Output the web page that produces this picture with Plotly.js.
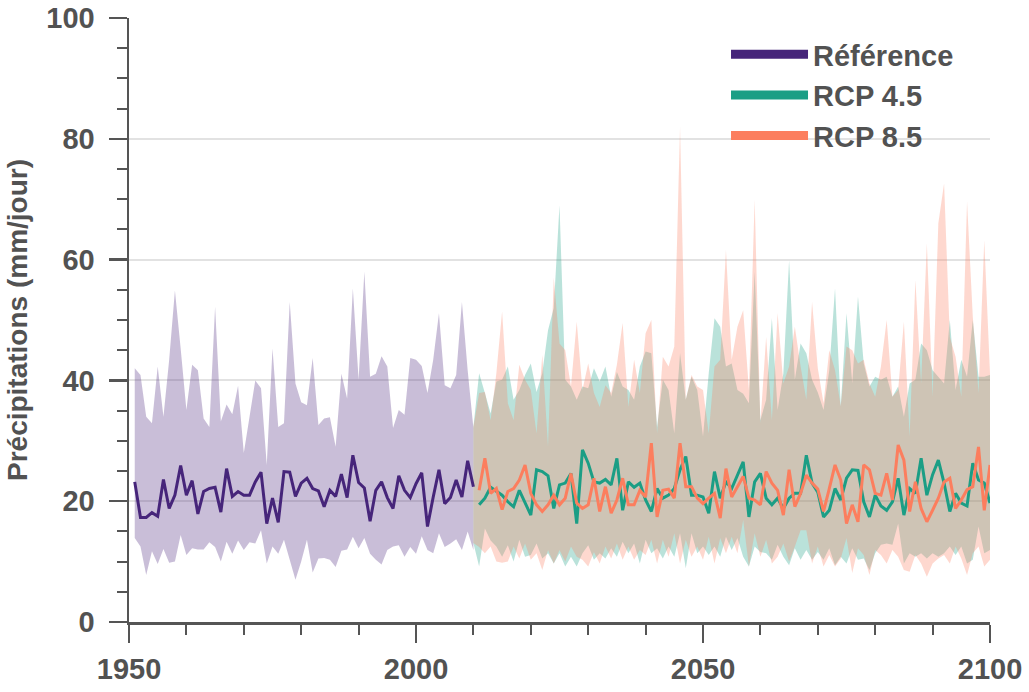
<!DOCTYPE html>
<html>
<head>
<meta charset="utf-8">
<script src="https://cdn.plot.ly/plotly-3.0.1.min.js"></script>
<style>
html,body{margin:0;padding:0;background:#fff;}
#chart{width:1029px;height:692px;}
</style>
</head>
<body>
<div id="chart"></div>
<script>
// ---------- Data ----------
const refYears = [];
for (let y = 1951; y <= 2010; y++) refYears.push(y);
const rcpYears = [];
for (let y = 2011; y <= 2100; y++) rcpYears.push(y);
const rcpBandYears = [];
for (let y = 2010; y <= 2100; y++) rcpBandYears.push(y);

const refMean = [
23.2,17.3,17.3,18.1,17.5,23.6,18.8,21.0,25.9,21.0,
23.4,17.9,21.6,22.1,22.3,18.2,25.4,20.8,21.6,21.0,
21.0,23.2,24.8,16.3,20.5,16.5,24.9,24.8,20.8,23.0,
23.8,22.1,21.7,19.1,21.8,20.8,24.5,20.6,27.6,23.1,
22.2,16.7,21.8,23.2,20.6,18.8,24.2,21.8,20.6,22.9,
24.7,15.8,20.7,25.2,19.6,20.6,23.5,20.7,26.7,22.4];
const refUpper = [
42.0,40.9,34.0,32.9,42.3,34.0,43.4,54.9,45.3,35.1,
42.6,41.7,33.7,32.3,52.2,33.2,36.0,34.4,39.1,28.0,
34.0,40.0,38.7,26.0,45.3,32.3,32.9,53.0,39.5,36.4,
35.9,43.7,32.6,33.7,33.9,29.0,41.1,37.0,55.2,40.1,
58.0,40.6,41.1,44.0,42.3,32.1,35.1,34.3,43.7,43.4,
42.4,37.9,43.4,51.1,39.2,38.7,40.9,53.0,41.7,32.1];
const refLower = [
13.9,12.5,7.8,11.7,9.6,12.1,9.8,10.0,14.4,11.1,
12.2,12.0,12.0,13.2,12.4,10.0,13.3,11.3,13.5,11.9,
13.2,13.0,15.2,9.7,12.5,11.3,13.6,10.3,7.0,10.0,
13.6,8.2,10.5,10.6,10.3,9.1,11.8,12.0,14.1,12.2,
13.9,11.3,10.3,9.5,11.9,12.5,12.7,10.8,12.4,11.3,
14.2,11.9,11.4,14.7,12.4,13.0,13.7,11.9,15.0,11.9];

// means: 2011-2100 ; bands: 2010-2100
const rcp45Mean = [
19.4,20.5,22.3,21.6,21.0,19.9,19.1,21.8,19.7,17.7,
25.2,24.9,24.2,18.8,22.7,23.0,24.6,16.3,28.5,26.3,
23.2,23.0,23.6,22.7,27.1,18.5,23.2,22.3,23.0,20.2,
18.3,22.1,20.5,21.0,22.1,25.2,27.4,21.0,21.0,20.7,
18.0,24.9,20.5,23.2,22.1,24.3,26.5,17.4,23.2,24.6,
20.5,19.4,20.5,18.8,20.5,21.3,21.3,27.6,23.0,21.5,
17.4,18.5,22.1,20.2,23.8,25.2,25.1,19.9,17.4,21.0,
19.2,18.5,19.9,23.8,17.7,22.1,21.3,27.1,21.0,24.4,
26.8,23.0,18.3,21.3,19.7,19.2,26.3,23.5,23.0,19.7];
const rcp45Upper = [32.3,
41.2,37.9,34.5,39.8,40.1,42.3,36.8,38.4,40.9,42.8,
38.1,41.2,48.3,52.0,69.0,40.1,39.0,36.8,39.0,38.7,
42.0,39.8,42.3,37.3,41.4,39.0,38.4,36.8,42.3,44.8,
44.5,32.3,40.1,38.4,31.2,44.5,36.8,40.6,38.4,30.7,
41.2,50.3,48.9,42.3,42.8,38.4,37.8,36.2,58.0,33.4,
36.8,50.3,35.1,41.2,59.9,40.1,46.1,44.5,40.1,38.0,
35.1,41.7,55.2,35.7,51.1,39.5,53.9,42.8,39.0,40.6,
40.1,40.6,37.3,39.0,34.0,39.5,40.1,46.1,45.0,41.7,
40.6,39.5,50.0,38.4,43.4,40.6,50.0,40.6,40.6,40.9];
const rcp45Lower = [13.1,
9.2,15.5,13.5,12.5,10.8,12.7,10.0,13.6,10.8,11.1,
13.0,10.5,11.4,9.7,11.4,9.2,10.8,9.2,11.4,12.7,
10.3,11.4,10.5,12.2,10.8,13.3,11.4,13.0,9.7,13.6,
11.4,12.2,10.5,12.5,10.8,14.7,8.9,14.7,11.4,12.5,
11.1,12.5,10.8,14.1,11.9,13.9,10.8,9.2,12.5,11.6,
11.4,10.3,12.8,10.8,9.4,12.2,10.3,11.9,10.3,11.6,
10.3,12.2,9.4,10.8,9.7,12.2,10.3,10.5,8.6,11.4,
12.8,13.0,12.8,16.3,9.7,11.4,10.8,11.4,10.5,11.4,
10.8,11.4,12.5,11.1,12.5,9.7,10.3,15.8,11.4,11.9];

const rcp85Mean = [
21.8,27.1,21.3,22.1,18.6,21.6,22.1,23.5,26.0,21.3,
19.4,18.3,19.4,21.0,19.4,20.5,24.6,19.7,18.8,19.4,
23.8,18.3,22.4,18.0,20.2,23.8,19.4,19.4,21.8,20.7,
29.6,17.4,21.8,22.0,20.5,29.6,22.4,22.4,20.5,19.6,
20.5,21.3,17.2,25.4,20.7,22.4,24.1,20.5,20.2,19.4,
24.9,23.0,21.8,17.7,25.2,19.1,21.3,24.3,23.0,22.0,
18.3,22.1,26.0,23.5,16.3,19.4,16.6,26.0,25.2,21.3,
21.0,24.6,20.2,29.3,26.8,18.3,23.2,18.8,16.6,18.5,
20.5,23.2,23.8,18.8,20.2,21.9,22.4,29.0,18.5,26.0];
const rcp85Upper = [32.3,
37.9,38.1,33.4,41.2,51.4,36.2,33.4,42.6,40.1,38.4,
31.2,44.2,29.0,57.0,46.1,45.0,39.0,49.7,38.4,42.8,
37.9,35.6,39.2,37.9,42.6,49.5,35.6,43.4,37.9,47.8,
50.0,31.2,43.9,42.3,45.6,82.0,36.8,40.9,39.0,38.4,
31.2,42.3,43.4,61.6,43.4,48.9,51.6,38.4,69.9,32.9,
47.2,33.4,51.1,39.5,42.3,48.9,42.3,36.8,53.0,42.0,
36.2,45.0,41.7,35.7,45.6,45.0,42.8,43.4,39.5,37.3,
42.3,50.0,37.3,38.4,49.7,30.7,56.6,39.5,62.7,37.3,
66.0,72.6,47.2,43.9,37.3,69.6,50.6,37.9,63.2,41.2];
const rcp85Lower = [13.1,
12.4,11.4,12.5,10.0,9.8,10.0,12.5,10.5,13.0,10.3,
11.4,8.6,11.9,9.7,11.9,10.0,12.5,10.8,10.3,9.2,
11.6,9.7,12.5,10.5,13.0,10.3,12.5,10.3,11.9,11.1,
13.6,9.7,13.6,10.8,14.7,9.7,13.6,10.8,12.5,10.3,
14.1,9.7,13.9,11.4,14.1,11.4,16.9,9.2,14.7,10.8,
13.6,9.7,10.8,13.0,10.0,12.5,15.2,15.2,9.7,12.5,
9.2,11.1,9.2,10.5,13.9,8.1,12.2,11.1,7.8,11.9,
11.1,9.7,11.9,10.8,8.6,8.3,11.1,9.7,7.5,9.7,
10.5,11.1,9.7,12.5,10.5,7.8,11.4,12.5,9.2,10.3];

const seriesNames = ["Référence", "RCP 4.5", "RCP 8.5"];
const yTitle = "Précipitations (mm/jour)";

// ---------- Styles ----------
const colRef = "#46257a", col45 = "#1b9e85", col85 = "#fc7e5e";
const fillRef = "rgba(75,40,125,0.30)";
const fill45 = "rgba(27,158,133,0.30)";
const fill85 = "rgba(252,127,95,0.30)";
const FONT = "Liberation Sans, Arial, Helvetica, sans-serif";
const TXT = "#525252";

function band(x, lo, hi, fc) {
  return [
    {x: x, y: lo, mode: "lines", line: {width: 0, color: fc}, showlegend: false, hoverinfo: "skip"},
    {x: x, y: hi, mode: "lines", line: {width: 0, color: fc}, fill: "tonexty", fillcolor: fc, showlegend: false, hoverinfo: "skip"}
  ];
}
function meanLine(x, y, c) {
  return {x: x, y: y, mode: "lines", line: {width: 3, color: c}, showlegend: false};
}
function legendItem(name, c) {
  return {x: [null], y: [null], mode: "lines", name: name, line: {width: 9, color: c}, showlegend: true, hoverinfo: "skip"};
}

const traces = [].concat(
  band(refYears, refLower, refUpper, fillRef),
  band(rcpBandYears, rcp45Lower, rcp45Upper, fill45),
  band(rcpBandYears, rcp85Lower, rcp85Upper, fill85),
  [meanLine(refYears, refMean, colRef),
   meanLine(rcpYears, rcp45Mean, col45),
   meanLine(rcpYears, rcp85Mean, col85),
   legendItem(seriesNames[0], colRef),
   legendItem(seriesNames[1], col45),
   legendItem(seriesNames[2], col85)]
);

const tickFont = {family: FONT, size: 29, color: TXT, weight: "bold"};

const layout = {
  width: 1029, height: 692,
  margin: {l: 129, r: 39, t: 18, b: 70, pad: 0},
  paper_bgcolor: "#fff", plot_bgcolor: "#fff",
  font: {family: FONT, color: TXT},
  showlegend: true,
  legend: {
    x: 0.6934, y: 0.982, xanchor: "left", yanchor: "top",
    bgcolor: "rgba(0,0,0,0)", borderwidth: 0,
    font: {family: FONT, size: 29, color: TXT, weight: "bold"},
    itemwidth: 77, tracegroupgap: 0, traceorder: "normal"
  },
  xaxis: {
    range: [1950, 2100], tick0: 1950, dtick: 50,
    ticks: "outside", ticklen: 18, tickwidth: 2.5, tickcolor: "#555",
    showline: true, linecolor: "#555", linewidth: 2.5,
    showgrid: false, zeroline: false,
    tickfont: tickFont, ticklabelstandoff: 2,
    minor: {tick0: 1950, dtick: 10, ticks: "outside", ticklen: 10, tickwidth: 2, tickcolor: "#555", showgrid: false},
    fixedrange: true
  },
  yaxis: {
    range: [0, 100], tick0: 0, dtick: 20,
    ticks: "outside", ticklen: 18, tickwidth: 2.5, tickcolor: "#555",
    showline: true, linecolor: "#555", linewidth: 2.5,
    showgrid: true, gridcolor: "#e2e2e2", gridwidth: 2,
    zeroline: false,
    tickfont: tickFont, ticklabelstandoff: 8,
    minor: {tick0: 0, dtick: 5, ticks: "outside", ticklen: 10, tickwidth: 2, tickcolor: "#555", showgrid: false},
    title: {text: yTitle, font: {family: FONT, size: 28, color: TXT, weight: "bold"}, standoff: 11},
    fixedrange: true
  }
};

Plotly.newPlot("chart", traces, layout, {staticPlot: true, displayModeBar: false});
</script>
</body>
</html>
